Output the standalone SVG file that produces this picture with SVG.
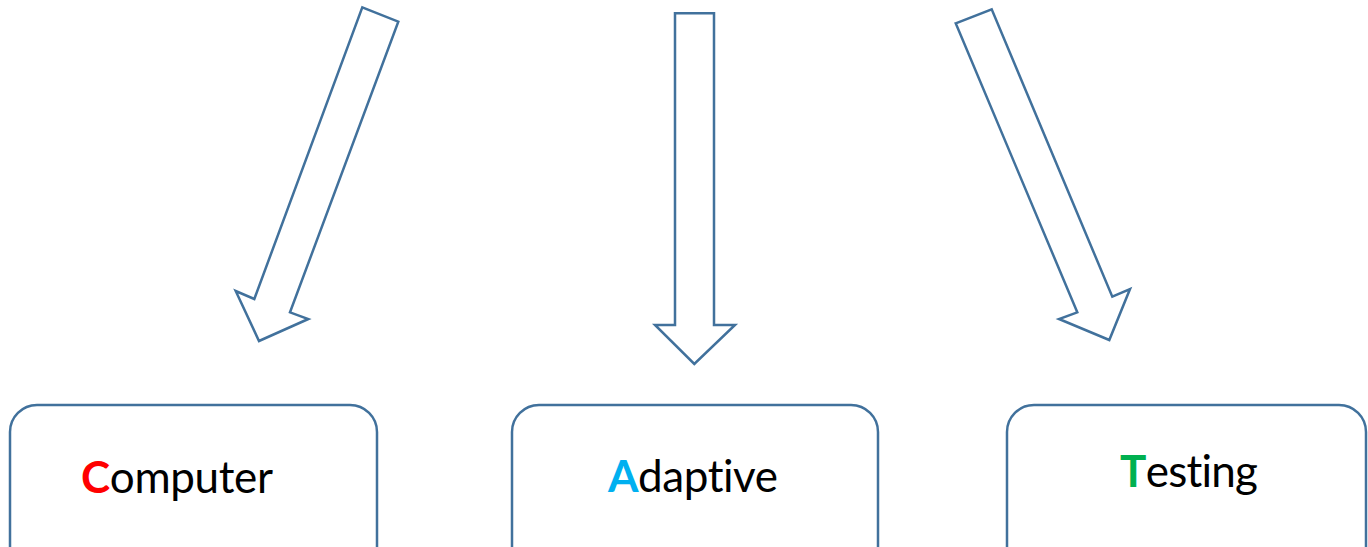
<svg xmlns="http://www.w3.org/2000/svg" width="1368" height="547" viewBox="0 0 1368 547">
<style>
.arrow{fill:#fff;stroke:#41719C;stroke-width:2.5;stroke-linejoin:miter}
.box{fill:#fff;stroke:#41719C;stroke-width:2.5}
.lbl{font-family:Lato,"Open Sans",sans-serif;font-size:44px;fill:#000;font-variant-ligatures:none}
.init{font-weight:bold}
</style>
<rect width="1368" height="547" fill="#fff"/>
<g id="connectors">
<polygon class="arrow" points="362.3,7.3 398.3,21.7 290,312.3 308.3,319 259,341 235.7,291 254.3,299"/>
<polygon class="arrow" points="675,13.3 714,13.3 714,325 735,325 694.3,364 655,325 675,325"/>
<polygon class="arrow" points="955.7,23.3 991.7,9.3 1112.3,296.7 1130,289 1109.3,340 1059,319 1077.3,312.3"/>
</g>
<g id="node-computer">
<rect class="box" x="10" y="405" width="367" height="170" rx="27"/>
<text class="lbl" x="81" y="493" textLength="192"><tspan class="init" fill="#FF0000">C</tspan>omputer</text>
</g>
<g id="node-adaptive">
<rect class="box" x="512" y="405" width="366" height="170" rx="27"/>
<text class="lbl" x="608" y="492" textLength="170"><tspan class="init" fill="#00B0F0">A</tspan>daptive</text>
</g>
<g id="node-testing">
<rect class="box" x="1007" y="405" width="359" height="170" rx="27"/>
<text class="lbl" x="1120" y="487" textLength="138"><tspan class="init" fill="#00B050">T</tspan>esting</text>
</g>
</svg>
